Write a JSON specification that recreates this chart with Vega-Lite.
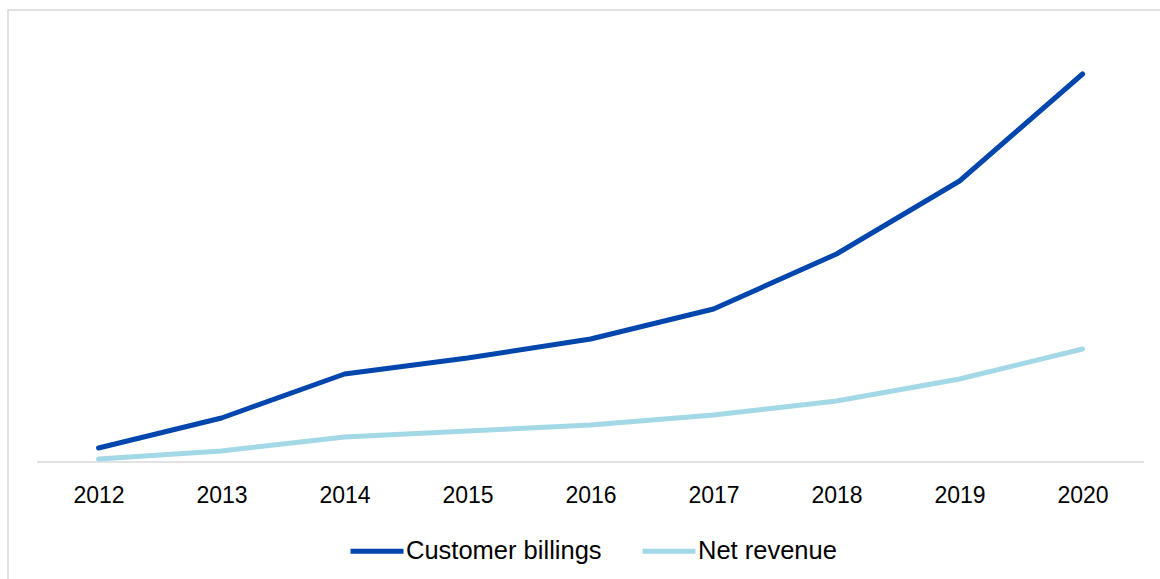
{
  "$schema": "https://vega.github.io/schema/vega-lite/v6.json",
  "autosize": "none",
  "width": 1170,
  "height": 590,
  "padding": {"left": 8, "top": 10, "right": 0, "bottom": 0},
  "background": "white",
  "config": {
    "view": {"stroke": "#d9d9d9", "strokeWidth": 1.5},
    "font": "Liberation Sans"
  },
  "encoding": {
    "x": {
      "field": "year", "type": "quantitative",
      "scale": {"domain": [2011.264, 2020.776], "nice": false, "zero": false},
      "axis": {
        "title": null, "values": [2012, 2013, 2014, 2015, 2016, 2017, 2018, 2019, 2020],
        "format": "d", "domain": false, "ticks": false, "grid": false,
        "labelFontSize": 23, "labelColor": "#000000", "labelPadding": 22,
        "labelFlush": false, "labelOverlap": false, "offset": -138
      }
    },
    "y": {
      "field": "value", "type": "quantitative",
      "scale": {"domain": [-138, 452], "nice": false, "zero": false},
      "axis": null
    }
  },
  "layer": [
    {
      "data": {"values": [{"year": 2011.5, "value": 0}, {"year": 2020.5, "value": 0}]},
      "mark": {"type": "line", "color": "#d9d9d9", "strokeWidth": 1.5},
      "encoding": {}
    },
    {
      "data": {"values": [
        {"year": 2012, "series": "Customer billings", "value": 14},
        {"year": 2013, "series": "Customer billings", "value": 44},
        {"year": 2014, "series": "Customer billings", "value": 88},
        {"year": 2015, "series": "Customer billings", "value": 104},
        {"year": 2016, "series": "Customer billings", "value": 123},
        {"year": 2017, "series": "Customer billings", "value": 153},
        {"year": 2018, "series": "Customer billings", "value": 208},
        {"year": 2019, "series": "Customer billings", "value": 281},
        {"year": 2020, "series": "Customer billings", "value": 388},
        {"year": 2012, "series": "Net revenue", "value": 3},
        {"year": 2013, "series": "Net revenue", "value": 11},
        {"year": 2014, "series": "Net revenue", "value": 25},
        {"year": 2015, "series": "Net revenue", "value": 31},
        {"year": 2016, "series": "Net revenue", "value": 37},
        {"year": 2017, "series": "Net revenue", "value": 47},
        {"year": 2018, "series": "Net revenue", "value": 61},
        {"year": 2019, "series": "Net revenue", "value": 83},
        {"year": 2020, "series": "Net revenue", "value": 113}
      ]},
      "mark": {"type": "line", "strokeWidth": 5, "strokeCap": "round", "strokeJoin": "round"},
      "encoding": {
        "color": {
          "field": "series", "type": "nominal",
          "scale": {"domain": ["Customer billings", "Net revenue"], "range": ["#0046ad", "#a3d9e7"]},
          "legend": {
            "title": null, "orient": "none", "direction": "horizontal",
            "legendX": 340, "legendY": 512,
            "symbolType": "stroke", "symbolSize": 2809, "symbolStrokeWidth": 5,
            "labelFontSize": 25.5, "labelColor": "#000000", "labelOffset": 0,
            "labelLimit": 400, "columnPadding": 30
          }
        }
      }
    }
  ]
}
